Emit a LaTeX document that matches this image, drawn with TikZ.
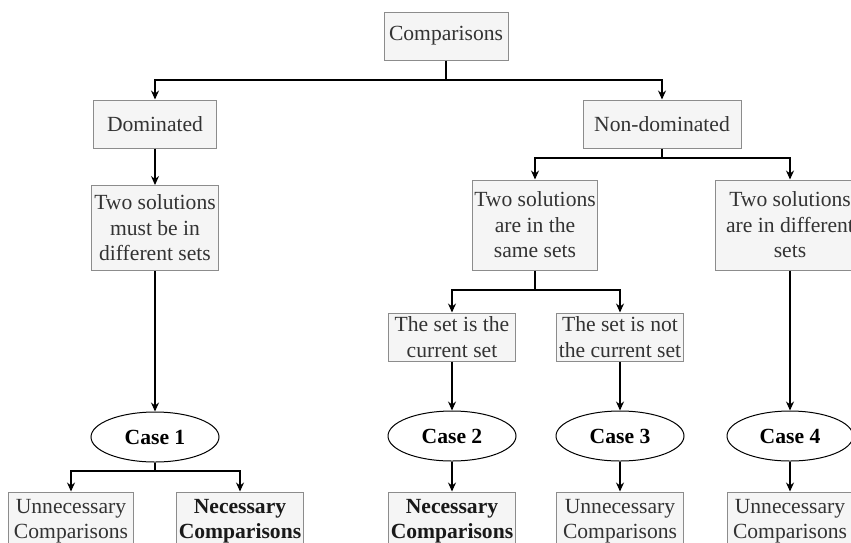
\documentclass[tikz,border=0pt]{standalone}
\usepackage{fontspec}
\setmainfont{Liberation Serif}
\usetikzlibrary{shapes.geometric,arrows.meta}
\definecolor{boxfill}{HTML}{F5F5F5}
\definecolor{boxline}{HTML}{8C8C8C}
\definecolor{boxtext}{HTML}{333333}
\newcommand{\diagfont}{\fontsize{21.6}{25.5}\selectfont}
\tikzset{
  box/.style={rectangle, draw=boxline, fill=boxfill, line width=1pt, inner sep=0pt,
    align=center, text=boxtext, font=\diagfont},
  boldbox/.style={box, text=black!90, font=\diagfont\bfseries},
  casebox/.style={ellipse, draw=black, fill=white, line width=1pt, inner sep=0pt,
    minimum width=128pt, minimum height=50pt, font=\diagfont\bfseries},
  flow/.style={draw=black, line width=1.2pt, -{Stealth[length=9pt,width=8pt]}},
  trunk/.style={draw=black, line width=1.2pt}
}
\begin{document}
\begin{tikzpicture}[x=1pt,y=-1pt]
\useasboundingbox (0,0) rectangle (851,542);
\clip (0,0) rectangle (851,542);

% top level
\node[box, minimum width=124pt, minimum height=48pt] (cmp) at (446,36) {Comparisons};
\node[box, minimum width=123pt, minimum height=48pt] (dom) at (155,124) {Dominated};
\node[box, minimum width=158pt, minimum height=48pt] (nond) at (662,124) {Non-dominated};

% second level
\node[box, minimum width=127pt, minimum height=85pt] (must) at (155,228)
  {Two solutions\\must be in\\different sets};
\node[box, minimum width=125pt, minimum height=90pt] (same) at (535,225)
  {Two solutions\\are in the\\same sets};
\node[box, minimum width=150pt, minimum height=90pt] (diff) at (790,225)
  {Two solutions\\are in different\\sets};

% third level
\node[box, minimum width=127pt, minimum height=48pt] (cur) at (452,337)
  {The set is the\\current set};
\node[box, minimum width=127pt, minimum height=48pt] (notcur) at (620,337)
  {The set is not\\the current set};

% cases
\node[casebox] (c1) at (155,437) {Case 1};
\node[casebox] (c2) at (452,436) {Case 2};
\node[casebox] (c3) at (620,436) {Case 3};
\node[casebox, minimum width=126pt] (c4) at (790,436) {Case 4};

% outcomes
\node[box, minimum width=125pt, minimum height=58pt] (o1) at (71,521)
  {Unnecessary\\Comparisons};
\node[boldbox, minimum width=127pt, minimum height=58pt] (o2) at (240,521)
  {Necessary\\Comparisons};
\node[boldbox, minimum width=127pt, minimum height=58pt] (o3) at (452,521)
  {Necessary\\Comparisons};
\node[box, minimum width=127pt, minimum height=58pt] (o4) at (620,521)
  {Unnecessary\\Comparisons};
\node[box, minimum width=126pt, minimum height=58pt] (o5) at (790,521)
  {Unnecessary\\Comparisons};

% branching connectors
\coordinate (cmpj) at (cmp.south |- 0,80);
\draw[trunk] (cmp.south) -- (cmpj);
\draw[flow] (cmpj) -| (dom.north);
\draw[flow] (cmpj) -| (nond.north);

\coordinate (nondj) at (nond.south |- 0,158);
\draw[trunk] (nond.south) -- (nondj);
\draw[flow] (nondj) -| (same.north);
\draw[flow] (nondj) -| (diff.north);

\coordinate (samej) at (same.south |- 0,290);
\draw[trunk] (same.south) -- (samej);
\draw[flow] (samej) -| (cur.north);
\draw[flow] (samej) -| (notcur.north);

\coordinate (c1j) at (c1.south |- 0,471);
\draw[trunk] (c1.south) -- (c1j);
\draw[flow] (c1j) -| (o1.north);
\draw[flow] (c1j) -| (o2.north);

% straight connectors
\draw[flow] (dom) -- (must);
\draw[flow] (must) -- (c1);
\draw[flow] (cur) -- (c2);
\draw[flow] (notcur) -- (c3);
\draw[flow] (diff) -- (c4);
\draw[flow] (c2) -- (o3);
\draw[flow] (c3) -- (o4);
\draw[flow] (c4) -- (o5);
\end{tikzpicture}
\end{document}
